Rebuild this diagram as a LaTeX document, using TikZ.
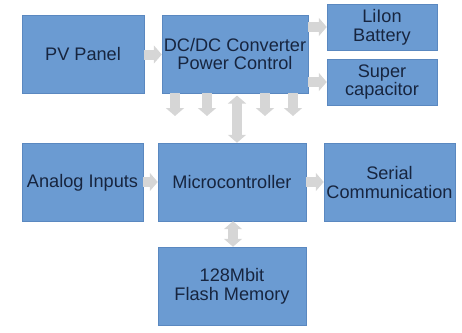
\documentclass[tikz,border=0pt]{standalone}
\usepackage{fontspec}
\setmainfont{Liberation Sans}
\usepackage{xcolor}
\usetikzlibrary{arrows.meta,positioning,calc}
\definecolor{boxblue}{HTML}{6B9BD2}
\definecolor{boxedge}{HTML}{5A88C0}
\definecolor{txtnavy}{HTML}{17253F}
\definecolor{arrgray}{HTML}{D6D6D6}

\begin{document}
\begin{tikzpicture}[
  x=0.03cm, y=-0.03cm,
  font=\fontsize{15.5}{16}\selectfont,
  blkbox/.style={
    draw=boxedge, fill=boxblue, text=txtnavy, align=center,
    minimum width=4.4cm, minimum height=2.34cm, inner sep=1pt,
  },
  arr/.style={-{Triangle[width=0.54cm, length=0.24cm]}, draw=arrgray,
    line width=0.3cm},
  dblarr/.style={{Triangle[width=0.54cm, length=0.24cm]}-{Triangle[width=0.54cm, length=0.24cm]},
    draw=arrgray, line width=0.3cm},
]
\useasboundingbox (0,0) rectangle (462,333);
\node[blkbox, minimum width=3.66cm] (pv) at (83, 54.5) {PV Panel};
\node[blkbox, minimum width=4.38cm] (dc) at (235, 54)
  {DC/DC Converter\\Power Control};
\node[blkbox, minimum width=3.3cm, minimum height=1.38cm] (bat) at (382, 27)
  {LiIon\\Battery};
\node[blkbox, minimum width=3.3cm, minimum height=1.38cm] (cap) at (382, 82)
  {Super\\capacitor};
\node[blkbox, minimum width=3.63cm] (ain) at (82.5, 182.5) {Analog Inputs};
\node[blkbox, minimum width=4.44cm] (mcu) at (232, 182) {Microcontroller};
\node[blkbox, minimum width=3.93cm] (ser) at (389.5, 182.5)
  {Serial\\Communication};
\node[blkbox, minimum width=4.44cm] (mem) at (232, 286)
  {128Mbit\\Flash Memory};
% side arrows
\draw[arr] (pv.east) -- (pv.east -| dc.west);
\draw[arr] (dc.east |- bat.center) -- (bat.west);
\draw[arr] (dc.east |- cap.center) -- (cap.west);
\draw[arr] (ain.east |- mcu.center) -- (mcu.west);
\draw[arr] (mcu.east) -- (mcu.east -| ser.west);
% power lines down to the controller
\foreach \i/\x in {1/175, 2/207, 3/265, 4/293} {
  \coordinate (pw\i) at (\x, 116);
  \draw[arr] (pw\i |- dc.south) -- (pw\i);
}
\coordinate (bus) at (237, 0);
\draw[dblarr, shorten <=2pt] (bus |- dc.south) -- (bus |- mcu.north);
\draw[dblarr] ([xshift=0.03cm]mcu.south) -- ([xshift=0.03cm]mem.north);
\end{tikzpicture}
\end{document}
